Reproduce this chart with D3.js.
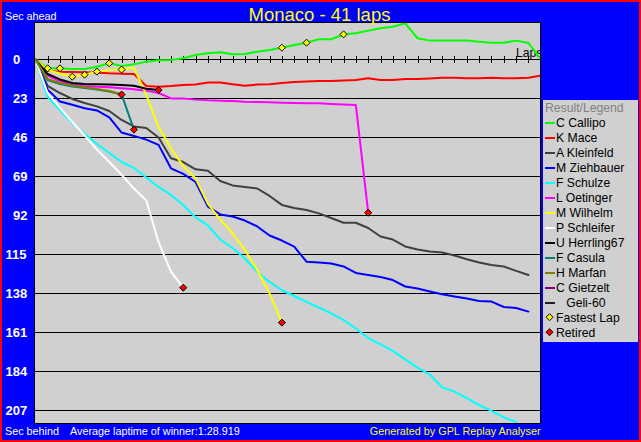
<!DOCTYPE html>
<html><head><meta charset="utf-8">
<script src="https://cdn.jsdelivr.net/npm/d3@7"></script>
<style>
body{margin:0;background:#0000ff;}
svg{display:block;font-family:"Liberation Sans",Arial,sans-serif;}
</style>
</head><body><svg id="chart" width="641" height="442"></svg>
<script>
// ---------- DATA ----------
const titleText = "Monaco - 41 laps";
const totalLaps = 41;
const yTickValues = [0, 23, 46, 69, 92, 115, 138, 161, 184, 207];
const avgLapText = "Average laptime of winner:1:28.919";

const drivers = ["C Callipo","K Mace","A Kleinfeld","M Ziehbauer","F Schulze","L Oetinger",
  "M Wilhelm","P Schleifer","U Herrling67","F Casula","H Marfan","C Gietzelt","   Geli-60"];

// seconds behind the winner's average pace after each lap (negative = ahead)
const callipo = [0,5.3,5.3,5.7,5.7,4.4,2.4,3.9,3.0,1.4,0.6,0.4,-0.6,-2.5,-3.5,-4.1,-2.9,-3.1,-4.5,-5.5,-6.8,-8.4,-9.8,-11.8,-11.8,-14.7,-15.3,-16.9,-18.3,-19.2,-21.2,-12.4,-11.0,-11.0,-11.0,-11.0,-10.4,-9.8,-9.8,-11.0,-9.6,0];
const mace = [0,6.7,7.3,7.5,7.7,7.9,8.3,8.5,8.7,15.8,16.2,15.8,15.2,14.9,13.7,13.7,14.7,15.6,14.9,14.7,14.0,13.4,13.1,12.8,12.8,12.5,12.2,11.2,12.2,12.2,11.6,11.6,11.3,10.9,10.9,11.2,11.2,10.9,11.2,11.2,10.9,9.7];
const kleinfeld = [0,15.7,19.9,23.4,25.8,27.8,30.5,35.8,39.6,40.5,46.1,58.4,60.6,64.9,65.7,71.8,74.4,75.3,76.2,80.6,85.9,87.7,88.9,90.9,93.6,96.4,96.4,99.5,104.5,106.3,110.4,112.2,113.3,114.0,115.7,117.9,119.8,121.3,122.2,124.8,127.2];
const ziehbauer = [0,17.9,24.9,26.8,28.9,30.2,34.3,43.2,45.2,47.4,50.5,64.3,67.6,72.4,86.9,91.5,92.7,95.1,98.6,103.9,106.9,110.5,119.4,119.9,120.4,122.2,126.0,127.2,128.4,130.2,134.0,135.2,136.9,138.6,139.9,141.1,142.5,142.9,146.1,146.7,148.8];
const schulze = [0,22.2,29.9,37.6,44.0,50.0,55.3,60.6,64.1,69.7,75.3,80.0,85.9,93.3,98.0,106.3,111.3,117.5,125.4,131.3,136.2,139.6,143.1,146.4,149.9,153.7,158.8,164.4,168.2,172.0,177.0,181.8,185.9,193.5,196.0,199.9,203.9,207.4,211.2,213.9];
const oetinger = [0,9.6,12.8,14.9,15.7,16.2,16.5,17.1,17.7,18.5,19.9,23.1,23.2,23.8,24.2,24.4,24.6,25.0,25.2,25.4,25.6,25.8,25.9,26.0,26.4,26.7,27.0,90.5];
const wilhelm = [0,6.3,8.4,10.3,9.1,7.3,6.3,6.1,5.0,21.0,40.0,52.5,63.0,70.3,85.3,94.5,102.6,112.5,124.3,138.0,155.3];
const schleifer = [0,19.9,28.7,37.0,44.9,53.2,60.6,68.2,76.2,83.3,107.9,125.2,134.7];
const herrling = [0,8.7,11.9,14.0,14.6,14.7,14.9,15.2,15.6,17.4,18.1];
const casula = [0,12.2,14.6,16.0,16.9,17.8,19.0,20.8,41.5];
const marfan = [0,11.6,14.0,15.5,16.5,17.5,18.7,20.8];
const gietzelt = [];
const geli = [];

const seriesValues = [callipo, mace, kleinfeld, ziehbauer, schulze, oetinger, wilhelm,
  schleifer, herrling, casula, marfan, gietzelt, geli];

// fastest lap set: driver index + lap
const fastestLapDriver = [0, 0, 6, 6, 6, 0, 6, 0, 0, 0];
const fastestLapLap    = [1, 2, 3, 4, 5, 6, 7, 20, 22, 25];

// drivers who retired (marker on their last lap)
const retiredDrivers = [5, 6, 7, 8, 9, 10];

// ---------- STYLE ----------
const colors = ["#00ff00","#ff0000","#404040","#0000ff","#00ffff","#ff00ff",
  "#ffff00","#ffffff","#000000","#008080","#808000","#800080","#202020"];

const svg = d3.select("#chart");
const W = 641, H = 442;
const plot = {x0: 34, y0: 22, x1: 540, y1: 423};

const x = d3.scaleLinear().domain([0, totalLaps]).range([35.3, 540.8]);
const y = d3.scaleLinear().domain([-21.8, 214.5]).range([22.3, 423]);

// background + frame
svg.append("rect").attr("width", W).attr("height", H).attr("fill", "#0000ff");
svg.append("rect").attr("x", 1).attr("y", 1).attr("width", W - 2).attr("height", H - 2)
  .attr("fill", "none").attr("stroke", "#ff0000").attr("stroke-width", 2);

// plot area
svg.append("rect").attr("x", plot.x0).attr("y", plot.y0)
  .attr("width", plot.x1 - plot.x0).attr("height", plot.y1 - plot.y0).attr("fill", "#d0d0d0");

svg.append("clipPath").attr("id", "clip").append("rect")
  .attr("x", plot.x0 + 1).attr("y", plot.y0 + 1)
  .attr("width", plot.x1 - plot.x0 - 1).attr("height", plot.y1 - plot.y0 - 1);

const g = svg.append("g").attr("clip-path", "url(#clip)");

// grid lines
yTickValues.filter(v => v !== 0).forEach(v => {
  const yy = Math.round(y(v)) + 0.5;
  g.append("line").attr("x1", plot.x0).attr("x2", plot.x1).attr("y1", yy).attr("y2", yy)
    .attr("stroke", "#000").attr("stroke-width", 1).attr("shape-rendering", "crispEdges");
});

// zero axis with lap ticks
const y0 = Math.round(y(0)) + 0.5;
g.append("line").attr("x1", plot.x0).attr("x2", plot.x1).attr("y1", y0).attr("y2", y0)
  .attr("stroke", "#000").attr("shape-rendering", "crispEdges");
d3.range(1, totalLaps).forEach(l => {
  const xx = Math.round(x(l)) + 0.5;
  g.append("line").attr("x1", xx).attr("x2", xx).attr("y1", y0 - 3.5).attr("y2", y0 + 3.5)
    .attr("stroke", "#000").attr("shape-rendering", "crispEdges");
});
g.append("text").attr("x", 516).attr("y", 56.5).attr("font-size", "12.2px")
  .attr("fill", "#000").text("Laps");

// series lines
const line = d3.line().x((d, i) => x(i)).y(d => y(d));
seriesValues.forEach((vals, i) => {
  if (!vals.length) return;
  g.append("path").attr("d", line(vals)).attr("fill", "none")
    .attr("stroke", colors[i]).attr("stroke-width", 2)
    .attr("stroke-linejoin", "round").attr("stroke-linecap", "round");
});

function diamond(sel, cx, cy, fill) {
  const r = 3.5;
  sel.append("path")
    .attr("d", `M${cx},${cy - r}L${cx + r},${cy}L${cx},${cy + r}L${cx - r},${cy}Z`)
    .attr("fill", fill).attr("stroke", "#000").attr("stroke-width", 1);
}

// retired markers
retiredDrivers.forEach(di => {
  const vals = seriesValues[di];
  const l = vals.length - 1;
  diamond(g, x(l), y(vals[l]), "#ff0000");
});
// fastest-lap markers
fastestLapDriver.forEach((di, k) => {
  const l = fastestLapLap[k];
  diamond(g, x(l), y(seriesValues[di][l]), "#ffff00");
});

// plot border
svg.append("rect").attr("x", plot.x0 + 0.5).attr("y", plot.y0 + 0.5)
  .attr("width", plot.x1 - plot.x0).attr("height", plot.y1 - plot.y0)
  .attr("fill", "none").attr("stroke", "#000").attr("shape-rendering", "crispEdges");

// y labels
yTickValues.forEach(v => {
  const s = String(v);
  svg.append("text").attr("x", s.length === 3 ? 5.5 : 13)
    .attr("y", y(v) + 4.6).attr("fill", "#fff").attr("font-weight", "bold")
    .attr("font-size", "13px").text(s);
});

// titles / captions
svg.append("text").attr("x", 319.5).attr("y", 20.5).attr("text-anchor", "middle")
  .attr("fill", "#ffff00").attr("font-size", "18.5px").text(titleText);
svg.append("text").attr("x", 5).attr("y", 20).attr("fill", "#fff")
  .attr("font-size", "10.8px").text("Sec ahead");
svg.append("text").attr("x", 5).attr("y", 435).attr("fill", "#fff")
  .attr("font-size", "10.8px").text("Sec behind");
svg.append("text").attr("x", 70).attr("y", 435).attr("fill", "#fff")
  .attr("font-size", "10.8px").text(avgLapText);
svg.append("text").attr("x", 540.5).attr("y", 435).attr("text-anchor", "end")
  .attr("fill", "#ffff00").attr("font-size", "10.8px").text("Generated by GPL Replay Analyser");

// legend
const lg = svg.append("g");
lg.append("rect").attr("x", 543).attr("y", 100).attr("width", 95).attr("height", 242)
  .attr("fill", "#d0d0d0");
lg.append("text").attr("x", 545).attr("y", 111.7).attr("fill", "#808080")
  .attr("font-size", "12.2px").text("Result/Legend");
drivers.forEach((name, i) => {
  const by = 126.7 + 15 * i;
  lg.append("line").attr("x1", 545).attr("x2", 555).attr("y1", by - 4).attr("y2", by - 4)
    .attr("stroke", colors[i]).attr("stroke-width", 2).attr("shape-rendering", "crispEdges");
  lg.append("text").attr("x", 556).attr("y", by).attr("fill", "#000")
    .attr("font-size", "12.2px").style("white-space", "pre").text(name);
});
const extra = [["Fastest Lap", "#ffff00"], ["Retired", "#ff0000"]];
extra.forEach(([name, c], k) => {
  const by = 126.7 + 15 * (drivers.length + k);
  diamond(lg, 549.5, by - 4.5, c);
  lg.append("text").attr("x", 556).attr("y", by).attr("fill", "#000")
    .attr("font-size", "12.2px").text(name);
});
</script>
</body></html>
